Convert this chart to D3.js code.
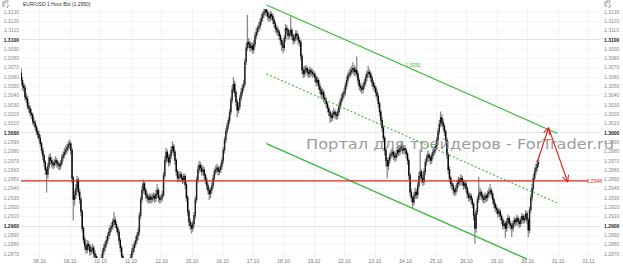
<!DOCTYPE html>
<html>
<head>
<meta charset="utf-8">
<script src="https://cdn.jsdelivr.net/npm/d3@7"></script>
<style>
html, body { margin: 0; padding: 0; background: #fff; }
svg { display: block; font-family: "Liberation Sans", Arial, sans-serif; }
</style>
</head>
<body>
<svg id="chart" width="623" height="266"></svg>
<script>
// EUR/USD 1 hour candles, 05.10 (partial) .. 30.10 (partial)
var title = 'EUR/USD 1 Hour Bid (1.2950)';
var dayLabels = ['08.10','09.10','10.10','11.10','12.10','15.10','16.10','17.10','18.10','19.10',
  '22.10','23.10','24.10','25.10','26.10','29.10','30.10','31.10','01.11'];
var priceTicks = [1.2870,1.2880,1.2890,1.2900,1.2910,1.2920,1.2930,1.2940,1.2950,1.2960,1.2970,
  1.2980,1.2990,1.3000,1.3010,1.3020,1.3030,1.3040,1.3050,1.3060,1.3070,1.3080,1.3090,1.3100,
  1.3110,1.3120,1.3130];

// first candle is 14 hours before the 08.10 mark
var startHour = -14;
var firstOpen = 1.3064;

var closes = [
  1.3056,1.3050,1.3048,1.3038,1.3036,1.3028,1.3026,1.3021,1.3019,1.3012,1.3010,1.3006,1.3001,1.2998,
  1.2994,1.2988,1.2981,1.2975,1.2968,1.2960,1.2955,1.2964,1.2973,1.2970,1.2967,1.2965,1.2968,1.2970,1.2967,1.2965,1.2964,1.2967,1.2973,1.2976,1.2979,1.2981,1.2984,1.2987,
  1.2988,1.2981,1.2951,1.2928,1.2933,1.2940,1.2949,1.2936,1.2928,1.2915,1.2897,1.2885,1.2878,1.2874,1.2880,1.2878,1.2872,1.2874,1.2876,1.2870,1.2867,1.2863,1.2859,1.2857,
  1.2861,1.2865,1.2872,1.2876,1.2880,1.2884,1.2889,1.2893,1.2897,1.2899,1.2904,1.2906,1.2901,1.2897,1.2893,1.2884,1.2876,1.2867,1.2859,1.2852,1.2850,1.2852,1.2854,1.2861,
  1.2866,1.2872,1.2876,1.2880,1.2884,1.2889,1.2893,1.2911,1.2928,1.2938,1.2945,1.2938,1.2933,1.2930,1.2928,1.2931,1.2928,1.2930,1.2932,1.2929,1.2934,1.2938,1.2930,1.2928,
  1.2930,1.2933,1.2954,1.2970,1.2979,1.2973,1.2968,1.2975,1.2981,1.2985,1.2979,1.2970,1.2958,1.2951,1.2953,1.2955,1.2951,1.2949,1.2953,1.2944,1.2930,1.2915,1.2904,1.2900,
  1.2897,1.2902,1.2911,1.2928,1.2949,1.2960,1.2965,1.2962,1.2958,1.2960,1.2954,1.2949,1.2943,1.2938,1.2934,1.2938,1.2943,1.2951,1.2958,1.2960,1.2962,1.2958,1.2960,1.2964,
  1.2970,1.2981,1.2992,1.3001,1.3007,1.3013,1.3022,1.3035,1.3046,1.3052,1.3043,1.3033,1.3024,1.3028,1.3037,1.3043,1.3048,1.3052,1.3076,1.3091,1.3097,1.3095,1.3091,1.3093,
  1.3089,1.3095,1.3104,1.3108,1.3112,1.3114,1.3119,1.3123,1.3127,1.3129,1.3132,1.3129,1.3125,1.3123,1.3127,1.3125,1.3121,1.3117,1.3112,1.3110,1.3108,1.3104,1.3099,1.3095,
  1.3091,1.3101,1.3112,1.3110,1.3104,1.3106,1.3110,1.3104,1.3099,1.3101,1.3106,1.3104,1.3099,1.3097,1.3082,1.3067,1.3063,1.3067,1.3069,1.3065,1.3063,1.3067,1.3065,1.3063,
  1.3063,1.3059,1.3054,1.3056,1.3050,1.3046,1.3041,1.3043,1.3037,1.3035,1.3031,1.3026,1.3022,1.3018,1.3016,1.3020,1.3022,1.3019,1.3018,1.3022,1.3028,1.3033,1.3037,1.3041,
  1.3043,1.3050,1.3056,1.3061,1.3063,1.3065,1.3067,1.3069,1.3065,1.3067,1.3063,1.3056,1.3050,1.3048,1.3046,1.3050,1.3054,1.3059,1.3063,1.3065,1.3063,1.3059,1.3054,1.3050,
  1.3048,1.3043,1.3039,1.3031,1.3022,1.3013,1.3005,1.2994,1.2981,1.2970,1.2964,1.2970,1.2975,1.2977,1.2979,1.2975,1.2973,1.2977,1.2981,1.2979,1.2983,1.2985,1.2981,1.2983,
  1.2981,1.2977,1.2970,1.2954,1.2936,1.2930,1.2925,1.2932,1.2936,1.2933,1.2943,1.2953,1.2958,1.2951,1.2947,1.2958,1.2968,1.2973,1.2976,1.2973,1.2970,1.2975,1.2979,1.2981,
  1.2985,1.2992,1.3001,1.3009,1.3016,1.3011,1.3007,1.3001,1.2992,1.2976,1.2960,1.2951,1.2945,1.2943,1.2938,1.2936,1.2940,1.2945,1.2949,1.2947,1.2951,1.2947,1.2943,1.2945,
  1.2940,1.2934,1.2930,1.2932,1.2928,1.2923,1.2911,1.2897,1.2915,1.2928,1.2934,1.2936,1.2932,1.2930,1.2928,1.2932,1.2930,1.2934,1.2936,1.2938,1.2934,1.2928,1.2923,1.2919,
  1.2917,1.2913,1.2915,1.2910,1.2906,1.2900,1.2902,1.2897,1.2904,1.2908,1.2902,1.2900,1.2897,1.2902,1.2906,1.2904,1.2908,1.2904,1.2902,1.2906,1.2910,1.2906,1.2908,1.2913,
  1.2906,1.2895,1.2917,1.2930,1.2940,1.2951,1.2958,1.2962,1.2966,1.2968
];

var highs = [
  1.3069,1.3059,1.3053,1.3051,1.3042,1.3039,1.3032,1.3029,1.3025,1.3021,1.3016,1.3013,1.3008,1.3004,
  1.3001,1.2997,1.2990,1.2984,1.2977,1.2970,1.2962,1.2967,1.2976,1.2977,1.2973,1.2970,1.2971,1.2974,1.2972,1.2969,1.2968,1.2970,1.2976,1.2979,1.2983,1.2985,1.2987,1.2990,
  1.2992,1.2990,1.2983,1.2953,1.2937,1.2944,1.2953,1.2951,1.2939,1.2930,1.2917,1.2899,1.2888,1.2881,1.2884,1.2883,1.2880,1.2877,1.2880,1.2878,1.2873,1.2869,1.2866,1.2862,
  1.2864,1.2868,1.2875,1.2880,1.2883,1.2888,1.2892,1.2897,1.2900,1.2903,1.2907,1.2914,1.2909,1.2904,1.2899,1.2895,1.2886,1.2878,1.2869,1.2861,1.2855,1.2856,1.2858,1.2864,
  1.2869,1.2875,1.2880,1.2883,1.2888,1.2892,1.2897,1.2914,1.2931,1.2942,1.2949,1.2947,1.2940,1.2936,1.2933,1.2934,1.2933,1.2934,1.2935,1.2934,1.2938,1.2944,1.2940,1.2932,
  1.2933,1.2937,1.2957,1.2974,1.2983,1.2981,1.2976,1.2978,1.2985,1.2990,1.2987,1.2981,1.2972,1.2960,1.2957,1.2958,1.2957,1.2954,1.2956,1.2955,1.2946,1.2932,1.2917,1.2907,
  1.2903,1.2905,1.2914,1.2931,1.2952,1.2964,1.2969,1.2968,1.2965,1.2964,1.2962,1.2956,1.2951,1.2945,1.2940,1.2941,1.2946,1.2954,1.2961,1.2964,1.2966,1.2964,1.2963,1.2967,
  1.2973,1.2984,1.2995,1.3004,1.3010,1.3016,1.3025,1.3038,1.3050,1.3059,1.3055,1.3045,1.3035,1.3032,1.3040,1.3047,1.3051,1.3056,1.3079,1.3095,1.3126,1.3101,1.3098,1.3097,
  1.3096,1.3099,1.3107,1.3112,1.3115,1.3118,1.3122,1.3127,1.3130,1.3133,1.3137,1.3135,1.3131,1.3128,1.3130,1.3129,1.3127,1.3123,1.3119,1.3115,1.3113,1.3110,1.3106,1.3101,
  1.3098,1.3104,1.3116,1.3115,1.3112,1.3110,1.3124,1.3112,1.3106,1.3105,1.3109,1.3109,1.3106,1.3102,1.3099,1.3084,1.3070,1.3071,1.3072,1.3071,1.3068,1.3070,1.3069,1.3068,
  1.3066,1.3065,1.3061,1.3060,1.3058,1.3053,1.3048,1.3047,1.3045,1.3040,1.3037,1.3033,1.3028,1.3024,1.3021,1.3023,1.3026,1.3024,1.3022,1.3025,1.3031,1.3036,1.3041,1.3044,
  1.3047,1.3053,1.3060,1.3064,1.3067,1.3069,1.3071,1.3075,1.3072,1.3070,1.3081,1.3065,1.3058,1.3053,1.3051,1.3053,1.3057,1.3062,1.3066,1.3071,1.3068,1.3065,1.3061,1.3056,
  1.3053,1.3050,1.3046,1.3041,1.3033,1.3024,1.3016,1.3007,1.2996,1.2983,1.2972,1.2973,1.2978,1.2981,1.2983,1.2981,1.2978,1.2980,1.2985,1.2984,1.2986,1.2989,1.2987,1.2986,
  1.2986,1.2983,1.2979,1.2972,1.2956,1.2939,1.2932,1.2935,1.2940,1.2939,1.2946,1.2957,1.2981,1.2960,1.2954,1.2961,1.2971,1.2976,1.2980,1.2978,1.2975,1.2978,1.2982,1.2985,
  1.2988,1.2995,1.3004,1.3013,1.3022,1.3019,1.3014,1.3009,1.3003,1.2994,1.2978,1.2963,1.2953,1.2948,1.2945,1.2941,1.2943,1.2948,1.2952,1.2951,1.2955,1.2953,1.2949,1.2948,
  1.2947,1.2942,1.2937,1.2935,1.2934,1.2930,1.2925,1.2913,1.2918,1.2931,1.2952,1.2940,1.2938,1.2935,1.2933,1.2935,1.2934,1.2937,1.2940,1.2944,1.2940,1.2936,1.2930,1.2925,
  1.2922,1.2919,1.2918,1.2917,1.2912,1.2908,1.2905,1.2904,1.2907,1.2911,1.2910,1.2905,1.2903,1.2905,1.2909,1.2908,1.2911,1.2910,1.2907,1.2909,1.2913,1.2912,1.2911,1.2916,
  1.2915,1.2908,1.2920,1.2933,1.2944,1.2955,1.2962,1.2966,1.2970,1.2971
];

var lows = [
  1.3052,1.3046,1.3044,1.3035,1.3032,1.3025,1.3022,1.3018,1.3015,1.3009,1.3007,1.3003,1.2998,1.2994,
  1.2991,1.2985,1.2978,1.2971,1.2964,1.2955,1.2936,1.2951,1.2961,1.2966,1.2963,1.2961,1.2962,1.2965,1.2963,1.2961,1.2960,1.2961,1.2965,1.2970,1.2973,1.2976,1.2978,1.2981,
  1.2983,1.2977,1.2946,1.2906,1.2922,1.2929,1.2937,1.2932,1.2924,1.2911,1.2893,1.2881,1.2874,1.2870,1.2871,1.2874,1.2868,1.2869,1.2871,1.2866,1.2863,1.2859,1.2855,1.2853,
  1.2853,1.2858,1.2862,1.2869,1.2873,1.2877,1.2881,1.2886,1.2890,1.2894,1.2896,1.2901,1.2898,1.2893,1.2889,1.2880,1.2872,1.2863,1.2855,1.2848,1.2846,1.2847,1.2849,1.2851,
  1.2858,1.2863,1.2869,1.2872,1.2877,1.2881,1.2885,1.2890,1.2908,1.2925,1.2935,1.2934,1.2929,1.2926,1.2924,1.2925,1.2924,1.2925,1.2927,1.2925,1.2926,1.2931,1.2926,1.2924,
  1.2925,1.2927,1.2931,1.2951,1.2967,1.2969,1.2964,1.2965,1.2972,1.2978,1.2975,1.2966,1.2954,1.2947,1.2948,1.2950,1.2947,1.2945,1.2946,1.2940,1.2926,1.2911,1.2900,1.2896,
  1.2892,1.2894,1.2899,1.2908,1.2925,1.2946,1.2957,1.2958,1.2954,1.2955,1.2950,1.2945,1.2939,1.2934,1.2928,1.2930,1.2935,1.2940,1.2948,1.2955,1.2957,1.2954,1.2955,1.2957,
  1.2961,1.2967,1.2978,1.2989,1.2998,1.3004,1.3010,1.3019,1.3032,1.3043,1.3039,1.3029,1.3017,1.3021,1.3025,1.3034,1.3040,1.3045,1.3050,1.3073,1.3088,1.3091,1.3087,1.3088,
  1.3085,1.3086,1.3092,1.3101,1.3105,1.3109,1.3111,1.3116,1.3120,1.3124,1.3126,1.3125,1.3121,1.3119,1.3120,1.3121,1.3117,1.3113,1.3108,1.3106,1.3104,1.3100,1.3094,1.3088,
  1.3086,1.3088,1.3098,1.3106,1.3100,1.3101,1.3103,1.3100,1.3095,1.3096,1.3098,1.3100,1.3095,1.3093,1.3078,1.3063,1.3059,1.3060,1.3064,1.3061,1.3059,1.3060,1.3061,1.3059,
  1.3060,1.3055,1.3050,1.3051,1.3046,1.3042,1.3037,1.3038,1.3033,1.3031,1.3027,1.3022,1.3018,1.3011,1.3012,1.3013,1.3017,1.3015,1.3014,1.3015,1.3019,1.3025,1.3030,1.3034,
  1.3038,1.3040,1.3047,1.3053,1.3058,1.3060,1.3062,1.3064,1.3061,1.3062,1.3060,1.3052,1.3046,1.3044,1.3042,1.3043,1.3047,1.3051,1.3056,1.3060,1.3059,1.3055,1.3050,1.3046,
  1.3044,1.3039,1.3035,1.3027,1.3018,1.3009,1.3001,1.2990,1.2976,1.2964,1.2951,1.2960,1.2967,1.2972,1.2974,1.2971,1.2969,1.2970,1.2974,1.2975,1.2976,1.2980,1.2977,1.2978,
  1.2977,1.2973,1.2966,1.2950,1.2932,1.2926,1.2919,1.2922,1.2929,1.2929,1.2930,1.2940,1.2950,1.2946,1.2943,1.2944,1.2955,1.2965,1.2970,1.2969,1.2966,1.2967,1.2972,1.2976,
  1.2978,1.2982,1.2989,1.2998,1.3006,1.3007,1.3003,1.2997,1.2988,1.2972,1.2956,1.2947,1.2941,1.2939,1.2934,1.2932,1.2933,1.2937,1.2942,1.2943,1.2944,1.2943,1.2939,1.2940,
  1.2936,1.2930,1.2926,1.2927,1.2924,1.2919,1.2906,1.2881,1.2893,1.2912,1.2925,1.2931,1.2928,1.2926,1.2924,1.2925,1.2926,1.2927,1.2931,1.2933,1.2930,1.2924,1.2919,1.2915,
  1.2913,1.2909,1.2910,1.2906,1.2902,1.2896,1.2897,1.2887,1.2894,1.2901,1.2898,1.2896,1.2888,1.2894,1.2899,1.2900,1.2901,1.2900,1.2898,1.2899,1.2903,1.2902,1.2903,1.2905,
  1.2902,1.2888,1.2892,1.2914,1.2927,1.2937,1.2948,1.2955,1.2959,1.2963
];

// drawn objects: [hour, price] endpoints
var channelUpper = [[179, 1.3137], [408, 1.2999]];
var channelMiddle = [[179, 1.3063], [408, 1.2924]];
var channelLower = [[179, 1.2988], [384, 1.2864]];
var channelLabel = '1.3050';
var bidLevel = 1.2948;
var forecast = [[392, 1.2968], [401, 1.3005], [416, 1.2947]];
var watermark = 'Портал для трейдеров - ForTrader.ru';

var svg = d3.select('#chart');
var plot = { left: 21, right: 600, top: 9, bottom: 258 };

var x = d3.scaleLinear().domain([0, 18 * 24]).range([39, 588]);
var y = d3.scaleLinear().domain([1.2870, 1.3130]).range([253.5, 11.5]);

function isMajor(p) { return Math.round(p * 10000) % 100 === 0; }

svg.append('defs').append('clipPath').attr('id', 'plotclip')
  .append('rect')
  .attr('x', plot.left).attr('y', plot.top)
  .attr('width', plot.right - plot.left).attr('height', plot.bottom - plot.top);

// grid
var grid = svg.append('g');
grid.selectAll('.hg').data(priceTicks).enter().append('line')
  .attr('x1', plot.left).attr('x2', plot.right)
  .attr('y1', function(d) { return Math.round(y(d)) + 0.5; })
  .attr('y2', function(d) { return Math.round(y(d)) + 0.5; })
  .attr('stroke', function(d) { return isMajor(d) ? '#e2e2e2' : '#f5f5f5'; });
grid.selectAll('.vg').data(dayLabels).enter().append('line')
  .attr('x1', function(d, i) { return Math.round(x(i * 24)) + 0.5; })
  .attr('x2', function(d, i) { return Math.round(x(i * 24)) + 0.5; })
  .attr('y1', plot.top).attr('y2', plot.bottom)
  .attr('stroke', '#f2f2f2');

// candles
var candles = closes.map(function(c, i) {
  return {
    h: startHour + i,
    open: i === 0 ? firstOpen : closes[i - 1],
    close: c,
    high: highs[i],
    low: lows[i]
  };
});

var cg = svg.append('g').attr('clip-path', 'url(#plotclip)');
cg.selectAll('.wick').data(candles).enter().append('line')
  .attr('x1', function(d) { return x(d.h); })
  .attr('x2', function(d) { return x(d.h); })
  .attr('y1', function(d) { return y(d.high) - 0.5; })
  .attr('y2', function(d) { return y(d.low) + 0.5; })
  .attr('stroke', '#8a8a8a')
  .attr('stroke-width', 1.3);
cg.selectAll('.body').data(candles).enter().append('rect')
  .attr('x', function(d) { return x(d.h) - 0.7; })
  .attr('width', 1.4)
  .attr('y', function(d) { return y(Math.max(d.open, d.close)) - 0.3; })
  .attr('height', function(d) { return Math.max(1.2, Math.abs(y(d.open) - y(d.close)) + 0.6); })
  .attr('fill', function(d) { return d.close >= d.open ? '#222' : '#000'; });

// watermark
svg.append('text')
  .attr('x', 306).attr('y', 149)
  .attr('textLength', 308).attr('lengthAdjust', 'spacingAndGlyphs')
  .style('font-family', '"DejaVu Sans", sans-serif')
  .style('font-size', '14.5px')
  .attr('fill', '#8a8a8a').attr('fill-opacity', 0.85)
  .text(watermark);

// channel
var line = d3.line().x(function(d) { return x(d[0]); }).y(function(d) { return y(d[1]); });
svg.append('path').attr('d', line(channelUpper))
  .attr('fill', 'none').attr('stroke', '#3cb83c').attr('stroke-width', 1.2);
svg.append('path').attr('d', line(channelMiddle))
  .attr('fill', 'none').attr('stroke', '#3cb83c').attr('stroke-width', 1.1)
  .attr('stroke-dasharray', '2,2');
svg.append('path').attr('d', line(channelLower))
  .attr('fill', 'none').attr('stroke', '#3cb83c').attr('stroke-width', 1.4);
svg.append('text')
  .attr('x', 413).attr('y', 67)
  .attr('text-anchor', 'middle')
  .style('font-size', '5px').attr('fill', '#3cb83c')
  .text(channelLabel);

// red level
svg.append('line')
  .attr('x1', plot.left).attr('x2', 588)
  .attr('y1', y(bidLevel)).attr('y2', y(bidLevel))
  .attr('stroke', '#e52222').attr('stroke-width', 1.2);
svg.append('text')
  .attr('x', 602).attr('y', y(bidLevel) + 1.8)
  .attr('text-anchor', 'end')
  .style('font-size', '5px').attr('fill', '#e52222')
  .text(bidLevel.toFixed(4));

// forecast arrows
svg.select('defs').append('marker')
  .attr('id', 'arrow').attr('viewBox', '0 0 10 10')
  .attr('refX', 9).attr('refY', 5)
  .attr('markerUnits', 'userSpaceOnUse')
  .attr('markerWidth', 8).attr('markerHeight', 8)
  .attr('orient', 'auto')
  .append('path').attr('d', 'M1,1 L9,5 L1,9')
  .attr('fill', 'none').attr('stroke', '#e52222').attr('stroke-width', 1.3);
svg.append('path').attr('d', line(forecast.slice(0, 2)))
  .attr('fill', 'none').attr('stroke', '#e52222').attr('stroke-width', 1.2)
  .attr('marker-end', 'url(#arrow)');
svg.append('path').attr('d', line(forecast.slice(1)))
  .attr('fill', 'none').attr('stroke', '#e52222').attr('stroke-width', 1.2)
  .attr('marker-end', 'url(#arrow)');

// axes
var fmt = d3.format('.4f');
var leftAxis = svg.append('g').attr('transform', 'translate(19,0)')
  .call(d3.axisLeft(y).tickValues(priceTicks).tickFormat(fmt).tickSize(0).tickPadding(0));
var rightAxis = svg.append('g').attr('transform', 'translate(604,0)')
  .call(d3.axisRight(y).tickValues(priceTicks).tickFormat(fmt).tickSize(0).tickPadding(0));
var bottomAxis = svg.append('g').attr('transform', 'translate(0,258)')
  .call(d3.axisBottom(x).tickValues(dayLabels.map(function(d, i) { return i * 24; }))
    .tickFormat(function(d) { return dayLabels[d / 24]; }).tickSize(0).tickPadding(0));

[leftAxis, rightAxis, bottomAxis].forEach(function(a) {
  a.select('.domain').remove();
  a.attr('font-family', null).attr('font-size', null);
  a.selectAll('text').style('font-size', '5px').attr('fill', '#777');
});
[leftAxis, rightAxis].forEach(function(a) {
  a.selectAll('text')
    .attr('fill', function(d) { return isMajor(d) ? '#222' : '#888'; })
    .style('font-weight', function(d) { return isMajor(d) ? 'bold' : 'normal'; });
});
bottomAxis.selectAll('text').attr('dy', '0.9em');

// header
svg.append('text')
  .attr('x', 23).attr('y', 6)
  .style('font-size', '5px').attr('fill', '#333')
  .text(title);

function icon(x0) {
  var g = svg.append('g').attr('transform', 'translate(' + x0 + ',1)')
    .attr('fill', 'none').attr('stroke', '#777').attr('stroke-width', 0.8);
  g.append('path').attr('d', 'M0,1 L3,1 M0,3 L3,3 M0,5 L3,5');
  g.append('path').attr('d', 'M4.5,2 a1.5,1.5 0 1 1 0.01,0 M6,3.5 L6,6 L4.5,6.5');
}
icon(2);
icon(604);
</script>
</body>
</html>
